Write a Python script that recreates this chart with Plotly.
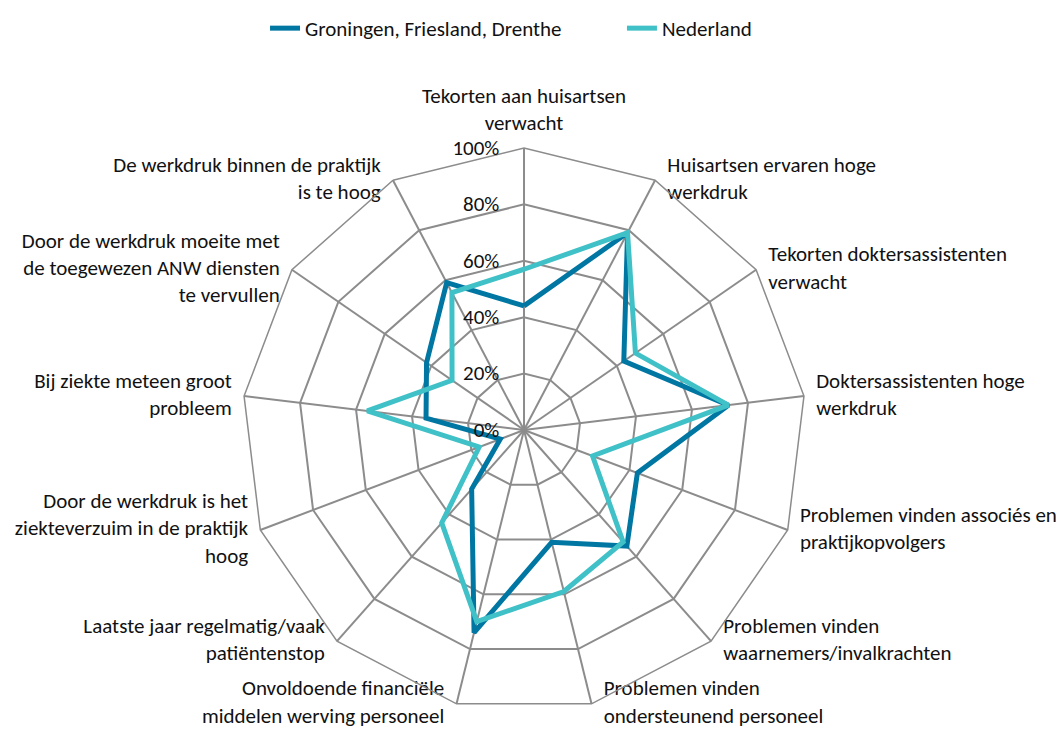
import plotly.graph_objects as go

categories = [
    "Tekorten aan huisartsen<br>verwacht",
    "Huisartsen ervaren hoge<br>werkdruk",
    "Tekorten doktersassistenten<br>verwacht",
    "Doktersassistenten hoge<br>werkdruk",
    "Problemen vinden associés en<br>praktijkopvolgers",
    "Problemen vinden<br>waarnemers/invalkrachten",
    "Problemen vinden<br>ondersteunend personeel",
    "Onvoldoende financiële<br>middelen werving personeel",
    "Laatste jaar regelmatig/vaak<br>patiëntenstop",
    "Door de werkdruk is het<br>ziekteverzuim in de praktijk<br>hoog",
    "Bij ziekte meteen groot<br>probleem",
    "Door de werkdruk moeite met<br>de toegewezen ANW diensten<br>te vervullen",
    "De werkdruk binnen de praktijk<br>is te hoog",
]

gfd = [44, 79, 43, 73, 43, 55, 41, 74, 28, 9, 35, 42, 59]
nederland = [57, 79, 48, 73, 26, 53, 59, 70, 44, 17, 56, 31, 55]

# where each category label sits relative to its outer vertex
label_pos = ["top center", "middle right", "middle right", "middle right", "middle right",
             "middle right", "middle right", "middle left", "middle left", "middle left",
             "middle left", "middle left", "middle left"]

dark = "#0077A3"
light = "#40C1C7"
grid = "#8C8C8C"
fontfam = "Carlito, Calibri, Lato, sans-serif"

fig = go.Figure()
for name, vals, col, leg in [("Groningen, Friesland, Drenthe", gfd, dark, "legend"),
                             ("Nederland", nederland, light, "legend2")]:
    fig.add_trace(go.Scatterpolar(
        r=vals + vals[:1], theta=categories + categories[:1],
        mode="lines", name=name, legend=leg,
        line=dict(color=col, width=5),
    ))

# category labels at the outer ring, like Excel places them
fig.add_trace(go.Scatterpolar(
    r=[100] * len(categories), theta=categories,
    mode="markers+text", text=categories, textposition=label_pos,
    marker=dict(size=18, color="rgba(0,0,0,0)"),
    textfont=dict(size=21, color="#111111", family=fontfam),
    cliponaxis=False, showlegend=False, hoverinfo="skip",
))

legend_style = dict(orientation="h", xref="paper", yref="container", y=1.0,
                    yanchor="top", xanchor="left", font=dict(size=21),
                    bgcolor="rgba(0,0,0,0)")

fig.update_layout(
    width=1056, height=730,
    margin=dict(l=0, r=0, t=46, b=0),
    paper_bgcolor="white",
    font=dict(family=fontfam, size=21, color="#111111"),
    showlegend=True,
    legend=dict(x=0.2434, **legend_style),
    legend2=dict(x=0.5814, **legend_style),
    polar=dict(
        domain=dict(x=[0.2216, 0.7557], y=[0.038, 0.8626]),
        bgcolor="white",
        gridshape="linear",
        radialaxis=dict(range=[0, 100], dtick=20, ticksuffix="%\u2003", angle=90,
                        side="counterclockwise", tickangle=90, showline=False,
                        gridcolor=grid, gridwidth=1.5, ticks="",
                        tickfont=dict(size=21)),
        angularaxis=dict(direction="clockwise", rotation=90, gridcolor=grid,
                         gridwidth=1.5, linecolor=grid, linewidth=1.5, ticks="",
                         showticklabels=False),
    ),
)

fig.write_html("out.html")
